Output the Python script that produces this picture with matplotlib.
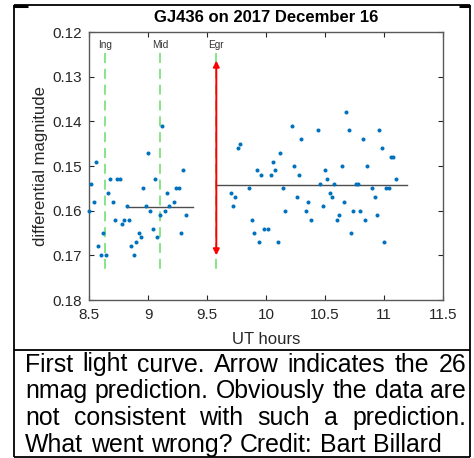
import matplotlib
matplotlib.use("Agg")
import matplotlib.pyplot as plt
from matplotlib.lines import Line2D

plt.rcParams['font.family'] = ['Liberation Sans', 'DejaVu Sans']

# ---------------- data ----------------
left_t = [8.50, 8.52, 8.54, 8.56, 8.58, 8.60, 8.62, 8.64, 8.66, 8.68, 8.70, 8.72,
          8.74, 8.76, 8.78, 8.80, 8.82, 8.84, 8.86, 8.88, 8.90, 8.92, 8.94, 8.96,
          8.98, 9.00, 9.02, 9.04, 9.06, 9.08, 9.10, 9.12, 9.14, 9.16, 9.18, 9.22,
          9.24, 9.26, 9.28, 9.30, 9.32]
left_mag = [0.160, 0.154, 0.158, 0.149, 0.168, 0.170, 0.165, 0.170, 0.156, 0.153, 0.158, 0.162,
            0.153, 0.153, 0.163, 0.162, 0.159, 0.162, 0.168, 0.170, 0.167, 0.165, 0.166, 0.155,
            0.159, 0.147, 0.160, 0.164, 0.153, 0.166, 0.161, 0.141, 0.160, 0.156, 0.159, 0.158,
            0.155, 0.155, 0.165, 0.151, 0.161]

right_t = [9.70, 9.72, 9.74, 9.76, 9.78, 9.86, 9.88, 9.90, 9.92, 9.94, 9.96, 9.98,
           10.02, 10.04, 10.06, 10.08, 10.10, 10.12, 10.14, 10.16, 10.22, 10.24, 10.26, 10.28,
           10.30, 10.34, 10.36, 10.38, 10.44, 10.46, 10.48, 10.50, 10.52, 10.54, 10.56, 10.58,
           10.60, 10.62, 10.64, 10.66, 10.68, 10.70, 10.72, 10.74, 10.76, 10.78, 10.80, 10.82,
           10.84, 10.86, 10.90, 10.92, 10.94, 10.96, 10.98, 11.00, 11.02, 11.04, 11.06, 11.08,
           11.10]
right_mag = [0.156, 0.159, 0.157, 0.146, 0.145, 0.155, 0.162, 0.165, 0.151, 0.167, 0.152, 0.164,
             0.164, 0.152, 0.149, 0.151, 0.167, 0.147, 0.155, 0.160, 0.141, 0.150, 0.157, 0.152,
             0.144, 0.160, 0.158, 0.162, 0.142, 0.154, 0.159, 0.151, 0.153, 0.156, 0.157, 0.154,
             0.162, 0.161, 0.150, 0.158, 0.138, 0.142, 0.165, 0.160, 0.154, 0.154, 0.160, 0.144,
             0.162, 0.150, 0.155, 0.157, 0.161, 0.142, 0.146, 0.167, 0.155, 0.155, 0.148, 0.148,
             0.153]

left_mean_span = [8.82, 9.38]
left_mean = 0.1592
right_mean_span = [9.58, 11.195]
right_mean = 0.1543

event_names = ["Ing", "Mid", "Egr"]
event_times = [8.636, 9.105, 9.579]
event_line_range = [0.1247, 0.1737]
event_label_y = 0.1229

arrow_range = [0.1700, 0.1264]   # predicted depth arrow (bottom, top)

x_ticks = [8.5, 9, 9.5, 10, 10.5, 11, 11.5]
x_ticklabels = ["8.5", "9", "9.5", "10", "10.5", "11", "11.5"]
y_ticks = [0.12, 0.13, 0.14, 0.15, 0.16, 0.17, 0.18]
y_ticklabels = ["0.12", "0.13", "0.14", "0.15", "0.16", "0.17", "0.18"]

title = "GJ436 on 2017 December 16"
xlabel = "UT hours"
ylabel = "differential magnitude"
caption_lines = [
    "First light curve. Arrow indicates the 26",
    "nmag prediction. Obviously the data are",
    "not consistent with such a prediction.",
    "What went wrong? Credit: Bart Billard",
]

# ---------------- figure ----------------
W, H = 474, 458
fig = plt.figure(figsize=(W / 100, H / 100), dpi=100)
fig.patch.set_facecolor("white")

ax = fig.add_axes([89 / W, (H - 300) / H, 354 / W, 268 / H])

mblue = (0.0, 0.447, 0.741)
axcol = (0.15, 0.15, 0.15)

ax.plot(left_t, left_mag, 'o', ms=2.9, color=mblue, mec='none', clip_on=False, zorder=3)
ax.plot(right_t, right_mag, 'o', ms=2.9, color=mblue, mec='none', clip_on=False, zorder=3)

ax.plot(left_mean_span, [left_mean, left_mean], color=(0.3, 0.3, 0.3), lw=1.0, zorder=2)
ax.plot(right_mean_span, [right_mean, right_mean], color=(0.3, 0.3, 0.3), lw=1.0, zorder=2)

green = (0.45, 0.88, 0.45)
for name, t in zip(event_names, event_times):
    ax.plot([t, t], event_line_range, color=green, lw=1.2, dashes=(6, 3.5), zorder=1)
    ax.text(t, event_label_y, name, ha='center', va='center', fontsize=7.2, color=(0.2, 0.2, 0.2))

ax.annotate("", xy=(event_times[2], arrow_range[1]), xytext=(event_times[2], arrow_range[0]),
            arrowprops=dict(arrowstyle='<|-|>', color='red', lw=1.4,
                            mutation_scale=9, shrinkA=0, shrinkB=0), zorder=4)

ax.set_xlim(8.5, 11.5)
ax.set_ylim(0.18, 0.12)
ax.set_xticks(x_ticks)
ax.set_xticklabels(x_ticklabels)
ax.set_yticks(y_ticks)
ax.set_yticklabels(y_ticklabels)
ax.tick_params(direction='in', length=3.5, width=0.8, colors=axcol, labelsize=11,
               top=True, right=True, pad=5)
ax.tick_params(axis='x', pad=6)
for s in ax.spines.values():
    s.set_color((0.35, 0.35, 0.35))
    s.set_linewidth(1.0)

ax.set_xlabel(xlabel, fontsize=12, color=axcol)
ax.xaxis.set_label_coords(0.5, (300 - 339) / 268)
ax.xaxis.label.set_va('center')
ax.set_ylabel(ylabel, fontsize=12, color=axcol)
ax.yaxis.set_label_coords((41 - 89) / 354, 0.5)
ax.yaxis.label.set_va('center')

ax.text(0.5, 1 + 14 / 268, title, transform=ax.transAxes, ha='center', va='center',
        fontsize=12, fontweight='bold', color='black')

# ---------------- frames ----------------
def fx(px):
    return px / W

def fy(py):
    return 1 - py / H

frame_kw = dict(color='black', lw=1.3, transform=fig.transFigure, solid_capstyle='butt')
for xs, ys in [([13.5, 470], [5, 5]), ([13.5, 13.5], [5, 457]), ([470, 470], [5, 457]),
               ([13.5, 470], [350, 350]), ([13.5, 470], [457, 457])]:
    fig.add_artist(Line2D([fx(v) for v in xs], [fy(v) for v in ys], **frame_kw))
thick_kw = dict(color='black', lw=2.2, transform=fig.transFigure, solid_capstyle='butt')
fig.add_artist(Line2D([fx(13), fx(28)], [fy(5.5), fy(5.5)], **thick_kw))
fig.add_artist(Line2D([fx(459), fx(470)], [fy(5.5), fy(5.5)], **thick_kw))

# ---------------- caption (justified) ----------------
renderer = fig.canvas.get_renderer()
left_px, right_px = 25, 466
base0, step = 371.5, 26.7

def natural_width(s, fs):
    p = fig.text(0, 0, s, fontsize=fs)
    w = p.get_window_extent(renderer).width
    p.remove()
    return w

ref_fs = 18
widest = max(natural_width(s, ref_fs) for s in caption_lines[:-1])
cap_fs = ref_fs * (right_px - left_px) * 0.995 / widest
space_w = natural_width("a a", cap_fs) - natural_width("aa", cap_fs)

for i, line in enumerate(caption_lines):
    words = line.split(" ")
    yb = base0 + i * step
    texts = [fig.text(0, fy(yb), w, fontsize=cap_fs, va='baseline', ha='left', color='black')
             for w in words]
    widths = [t.get_window_extent(renderer).width for t in texts]
    if i < len(caption_lines) - 1:
        gap = (right_px - left_px - sum(widths)) / (len(words) - 1)
    else:
        gap = space_w * 1.1
    x = left_px
    for t, w in zip(texts, widths):
        t.set_x(fx(x))
        x += w + gap

fig.savefig("out.png", dpi=100)
